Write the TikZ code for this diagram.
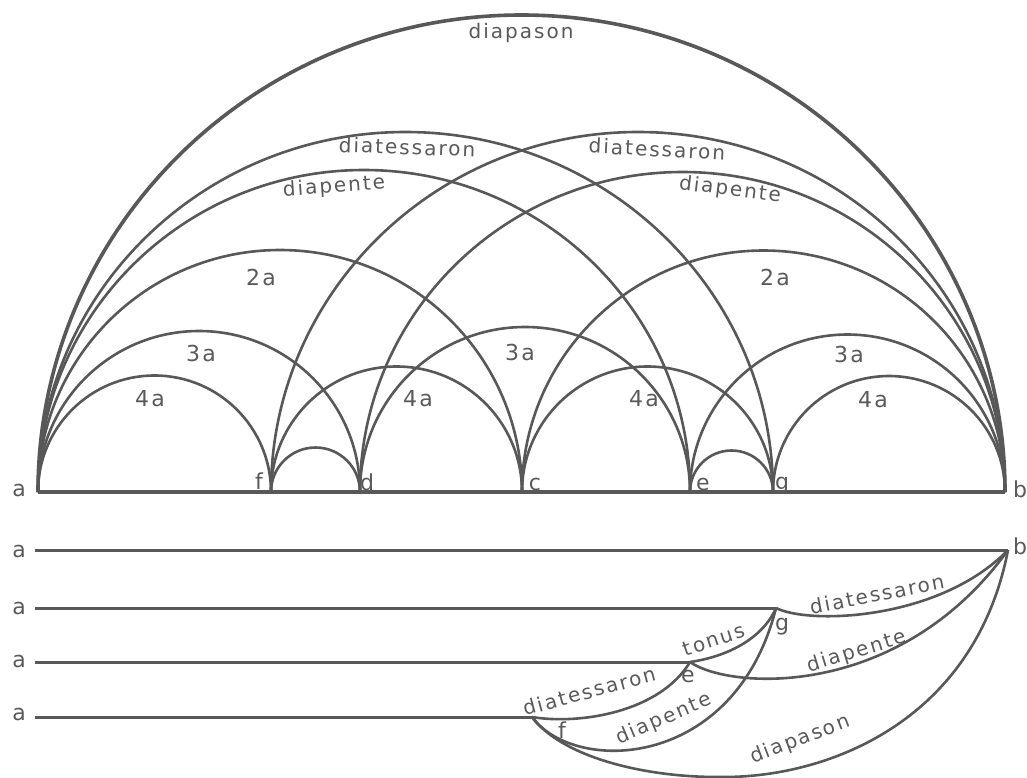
\documentclass[tikz,border=0pt]{standalone}
\usepackage{fontspec}
\setmainfont{DejaVu Sans}
\newfontfamily\labfont{DejaVu Sans}[LetterSpace=10]
\definecolor{ink}{RGB}{88,88,88}
\definecolor{txt}{RGB}{90,90,90}
\begin{document}
\begin{tikzpicture}[x=1pt,y=-1pt,
  arcline/.style={draw=ink,line width=2.6pt},
  heavy/.style={draw=ink,line width=3.6pt},
  strline/.style={draw=ink,line width=3pt},
  word/.style={text=txt,font=\labfont\fontsize{20}{24}\selectfont,inner sep=0pt},
  num/.style={text=txt,font=\labfont\fontsize{22}{26}\selectfont,inner sep=0pt},
  ptlab/.style={text=txt,font=\labfont\fontsize{22}{26}\selectfont,inner sep=0pt}]
\useasboundingbox (0,0) rectangle (1027,777);
\fill[white] (0,0) rectangle (1027,777);

% points on the monochord (upper figure)
\coordinate (A) at (38,492);
\coordinate (F) at (271,492);
\coordinate (D) at (360,492);
\coordinate (C) at (522,492);
\coordinate (E) at (690,492);
\coordinate (G) at (773,492);
\coordinate (B) at (1005,492);

% semicircles
\draw[heavy] (A) arc[start angle=180,end angle=360,x radius=483.5,y radius=477];
\draw[arcline] (A) arc[start angle=180,end angle=360,x radius=367.5,y radius=360];
\draw[arcline] (A) arc[start angle=180,end angle=360,x radius=326,y radius=322];
\draw[arcline] (F) arc[start angle=180,end angle=360,x radius=367,y radius=360];
\draw[arcline] (D) arc[start angle=180,end angle=360,x radius=322.5,y radius=320];
\draw[arcline] (A) arc[start angle=180,end angle=360,radius=242];
\draw[arcline] (C) arc[start angle=180,end angle=360,radius=241.5];
\draw[arcline] (A) arc[start angle=180,end angle=360,radius=161];
\draw[arcline] (D) arc[start angle=180,end angle=360,radius=165];
\draw[arcline] (E) arc[start angle=180,end angle=360,radius=157.5];
\draw[arcline] (A) arc[start angle=180,end angle=360,radius=116.5];
\draw[arcline] (F) arc[start angle=180,end angle=360,radius=125.5];
\draw[arcline] (C) arc[start angle=180,end angle=360,radius=125.5];
\draw[arcline] (G) arc[start angle=180,end angle=360,radius=116];
\draw[arcline] (F) arc[start angle=180,end angle=360,radius=44.5];
\draw[arcline] (E) arc[start angle=180,end angle=360,radius=41.5];
\draw[heavy] (A) -- (B);

% labels upper
\node[word] (lDiapason) at (521,33) {diapason};
\node[word,rotate=-2] (lDtL) at (407,147) {diatessaron};
\node[word,rotate=4] (lDpL) at (334,187) {diapente};
\node[word,rotate=-3] (lDtR) at (657,149) {diatessaron};
\node[word,rotate=-7] (lDpR) at (730,190) {diapente};
\node[num] (l2aL) at (261,277) {2a};
\node[num] (l2aR) at (775,277) {2a};
\node[num] (l3aL) at (201,353) {3a};
\node[num] (l3aM) at (520,352) {3a};
\node[num] (l3aR) at (849,354) {3a};
\node[num] (l4aL) at (150,399) {4a};
\node[num] (l4aM) at (418,399) {4a};
\node[num] (l4aN) at (644,399) {4a};
\node[num] (l4aR) at (873,400) {4a};
\node[ptlab] (pa) at (19,490) {a};
\node[ptlab] (pf) at (259,481) {f};
\node[ptlab] (pd) at (367,482) {d};
\node[ptlab] (pc) at (535,484) {c};
\node[ptlab] (pe) at (703,484) {e};
\node[ptlab] (pg) at (782,486) {g};
\node[ptlab] (pb) at (1020,489) {b};

% lower figure
\coordinate (a1) at (35,550);
\coordinate (a2) at (35,608);
\coordinate (a3) at (35,662);
\coordinate (a4) at (35,717);
\coordinate (B2) at (1008,550);
\coordinate (G2) at (776,608);
\coordinate (E2) at (690,662);
\coordinate (F2) at (532,717);
\coordinate (low) at (724,777);

\draw[strline] (a1) -- (B2);
\draw[strline] (a2) -- (G2);
\draw[strline] (a3) -- (E2);
\draw[strline] (a4) -- (F2);

\draw[arcline] (G2) .. controls (810,625) and (940,620) .. (B2);
\draw[arcline] (E2) .. controls (730,690) and (900,700) .. (B2);
\draw[arcline] (F2) .. controls (560,755) and (640,778) .. (low) .. controls (830,777) and (975,720) .. (B2);
\draw[arcline] (E2) .. controls (725,657) and (762,640) .. (G2);
\draw[arcline] (F2) .. controls (580,725) and (660,712) .. (E2);
\draw[arcline] (F2) .. controls (575,775) and (735,770) .. (G2);

\node[ptlab] (qa1) at (19,551) {a};
\node[ptlab] (qa2) at (19,608) {a};
\node[ptlab] (qa3) at (19,661) {a};
\node[ptlab] (qa4) at (19,714) {a};
\node[ptlab] (qb) at (1020,546) {b};
\node[ptlab] (qg) at (782,627) {g};
\node[ptlab] (qe) at (688,676) {e};
\node[ptlab] (qf) at (562,730) {f};

\node[word,rotate=11] (mDtR) at (877,594) {diatessaron};
\node[word,rotate=17] (mDpR) at (857,652) {diapente};
\node[word,rotate=21] (mDps) at (800,740) {diapason};
\node[word,rotate=18] (mTon) at (714,640) {tonus};
\node[word,rotate=15] (mDtL) at (589,691) {diatessaron};
\node[word,rotate=23] (mDpL) at (664,719) {diapente};
\end{tikzpicture}
\end{document}
